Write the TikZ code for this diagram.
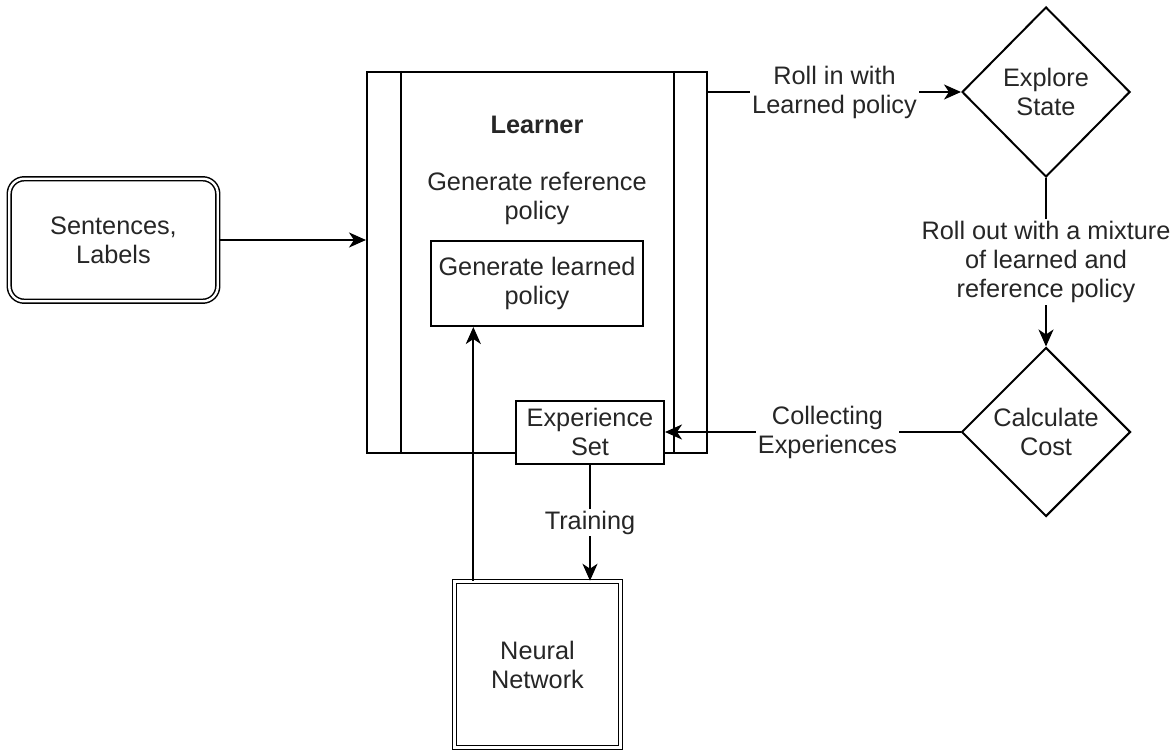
\documentclass[tikz,border=0pt]{standalone}
\usepackage{fontspec}
\setmainfont{Liberation Sans}
\usetikzlibrary{shapes.geometric,arrows.meta,calc}

\begin{document}
\begin{tikzpicture}[x=1pt,y=-1pt,
  every node/.style={font=\fontsize{25.3}{29}\selectfont, text=black!85, align=center},
  wireline/.style={draw=black, line width=2pt},
  conn/.style={draw=black, line width=2.2pt, -{Stealth[length=17pt,width=15pt,inset=5pt]}},
  box/.style={draw, line width=2pt, rectangle, inner sep=0pt, fill=white},
  dbox/.style={draw, line width=1.5pt, double, double distance=2.4pt, inner sep=0pt, fill=white},
  decision/.style={draw, line width=2pt, diamond, aspect=1, inner sep=0pt, fill=white},
  tag/.style={fill=white, inner sep=2pt}
]
\useasboundingbox (0,0) rectangle (1173,751);

% input data
\node[dbox, rounded corners=15pt, minimum width=208.5pt, minimum height=122.5pt]
  (src) at (113.5,240) {Sentences,\\Labels};

% learner process block with its two side bars
\node[box, minimum width=340pt, minimum height=381pt] (lrn) at (537,262.5) {};
\draw[wireline] ($(lrn.north west)+(35,0)$) -- ($(lrn.south west)+(35,0)$);
\draw[wireline] ($(lrn.north east)+(-34,0)$) -- ($(lrn.south east)+(-34,0)$);
\node[font=\fontsize{25.3}{29}\selectfont\bfseries] (lrntitle) at ($(lrn.north)+(0,54)$) {Learner};
\node (refpol) at ($(lrn.north)+(0,127.5)$) {Generate reference\\policy};

% inner blocks
\node[box, minimum width=212pt, minimum height=85pt] (gen) at (537,283.5) {Generate learned\\policy};
\node[box, minimum width=148pt, minimum height=63pt] (exp) at (590,432) {Experience\\Set};

% network
\node[dbox, minimum width=166pt, minimum height=166pt] (nn) at (537.5,664.5) {Neural\\Network};

% decisions
\node[decision, minimum width=168pt, minimum height=170pt] (explore) at (1046,92) {Explore\\State};
\node[decision, minimum width=169pt, minimum height=169pt] (cost) at (1046,432) {Calculate\\Cost};

% connectors
\draw[conn] (src.east) -- (src.east -| lrn.west);
\draw[conn] (explore.west -| lrn.east) -- node[tag] (rollin) {Roll in with\\Learned policy} (explore.west);
\draw[conn] (explore.south) -- node[tag] (rollout) {Roll out with a mixture\\of learned and\\reference policy} (cost.north);
\draw[conn] (cost.west) -- node[tag, pos=0.45] (collect) {Collecting\\Experiences} (cost.west -| exp.east);
\draw[conn] (exp.south) -- node[tag] (train) {Training} (exp.south |- nn.north);
\coordinate (nnup) at ($(nn.north west)!0.117!(nn.north east)$);
\draw[conn] (nnup) -- (nnup |- gen.south);
\end{tikzpicture}
\end{document}
